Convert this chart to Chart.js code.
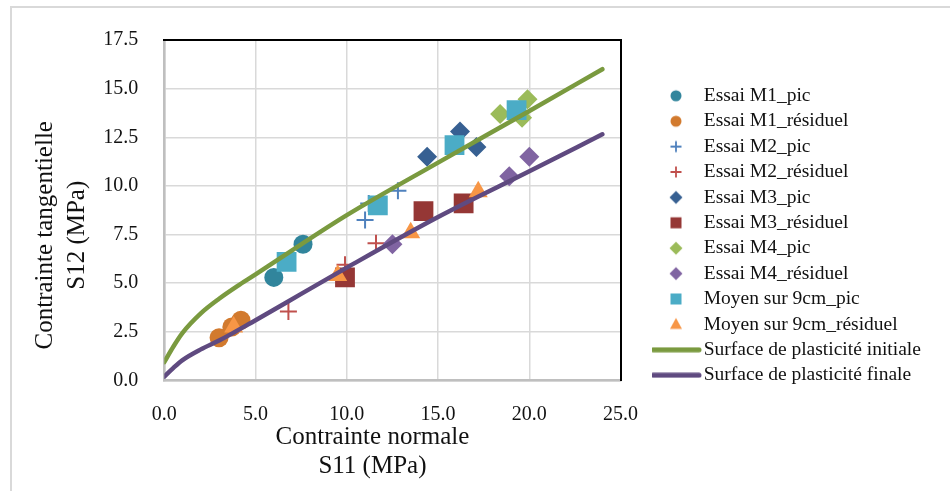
<!DOCTYPE html>
<html>
<head>
<meta charset="utf-8">
<script src="https://cdn.jsdelivr.net/npm/chart.js@4.4.1/dist/chart.umd.min.js"></script>
<style>
  html, body { margin: 0; padding: 0; background: #fff; }
  .wrap { position: relative; width: 950px; height: 491px; overflow: hidden; }
  .frame { position: absolute; left: 10px; top: 6px; width: 1000px; height: 600px;
           border-left: 2px solid #d9d9d9; border-top: 2px solid #d9d9d9; }
  canvas { position: absolute; left: 0; top: 0; }
</style>
</head>
<body>
<div class="wrap">
  <div class="frame"></div>
  <canvas id="myChart" width="950" height="491"></canvas>
</div>
<script>
// points (S11, S12 in MPa)
const m1PicX = [6.0, 7.6];
const m1PicY = [5.3, 7.0];
const m1ResX = [3.0, 3.7, 4.2];
const m1ResY = [2.2, 2.75, 3.1];
const m2PicX = [11.0, 11.2, 12.8];
const m2PicY = [8.25, 9.1, 9.75];
const m2ResX = [6.8, 9.9, 11.6];
const m2ResY = [3.55, 5.95, 7.05];
const m3PicX = [14.4, 16.2, 17.1];
const m3PicY = [11.5, 12.8, 12.0];
const m3ResX = [9.9, 14.2, 16.4];
const m3ResY = [5.3, 8.7, 9.1];
const m4PicX = [18.4, 19.6, 19.9];
const m4PicY = [13.7, 13.5, 14.45];
const m4ResX = [12.5, 18.9, 20.0];
const m4ResY = [7.0, 10.5, 11.5];
const moyPicX = [6.7, 11.7, 15.9, 19.3];
const moyPicY = [6.1, 9.0, 12.1, 13.9];
const moyResX = [3.8, 9.5, 13.5, 17.2];
const moyResY = [2.75, 5.4, 7.6, 9.7];

// plasticity surfaces
const initX = [0, 0.5, 1, 2, 3, 4, 5, 7.5, 10, 15, 20, 24];
const initY = [0.95, 1.75, 2.45, 3.45, 4.2, 4.85, 5.45, 7.0, 8.5, 11.2, 13.85, 16.0];
const finX = [0, 0.5, 1, 2, 3, 5, 7.5, 10, 15, 20, 24];
const finY = [0.2, 0.65, 1.05, 1.6, 2.05, 3.1, 4.45, 5.8, 8.4, 10.75, 12.65];

const xTicks = [0, 5, 10, 15, 20, 25];
const yTicks = [0, 2.5, 5, 7.5, 10, 12.5, 15, 17.5];

const xTitle = ['Contrainte normale', 'S11 (MPa)'];
const yTitle = ['Contrainte tangentielle', 'S12 (MPa)'];

const serif = '"Liberation Serif", "Times New Roman", serif';
const textCol = '#111';

const pts = (xs, ys) => xs.map((x, i) => ({ x: x, y: ys[i] }));

const series = [
  { label: 'Essai M1_pic', x: m1PicX, y: m1PicY, style: 'circle', r: 9.5, color: '#31859c' },
  { label: 'Essai M1_résiduel', x: m1ResX, y: m1ResY, style: 'circle', r: 9.5, color: '#d27a2e' },
  { label: 'Essai M2_pic', x: m2PicX, y: m2PicY, style: 'cross', r: 8.5, color: '#4f81bd' },
  { label: 'Essai M2_résiduel', x: m2ResX, y: m2ResY, style: 'cross', r: 8.5, color: '#c0504d' },
  { label: 'Essai M3_pic', x: m3PicX, y: m3PicY, style: 'rectRot', r: 10, color: '#376092' },
  { label: 'Essai M3_résiduel', x: m3ResX, y: m3ResY, style: 'rect', r: 14, color: '#953735' },
  { label: 'Essai M4_pic', x: m4PicX, y: m4PicY, style: 'rectRot', r: 10, color: '#9bbb59' },
  { label: 'Essai M4_résiduel', x: m4ResX, y: m4ResY, style: 'rectRot', r: 10, color: '#8064a2' },
  { label: 'Moyen sur 9cm_pic', x: moyPicX, y: moyPicY, style: 'rect', r: 14, color: '#4bacc6' },
  { label: 'Moyen sur 9cm_résiduel', x: moyResX, y: moyResY, style: 'triangle', r: 11, color: '#f79646' },
  { label: 'Surface de plasticité initiale', x: initX, y: initY, style: 'line', color: '#7a9a3f' },
  { label: 'Surface de plasticité finale', x: finX, y: finY, style: 'line', color: '#5f4a80' }
];

const datasets = series.map((s, i) => {
  if (s.style === 'line') {
    return {
      label: s.label, data: pts(s.x, s.y), showLine: true, pointRadius: 0,
      borderColor: s.color, borderWidth: 4.5, borderCapStyle: 'round',
      cubicInterpolationMode: 'monotone', fill: false, order: series.length - i
    };
  }
  return {
    label: s.label, data: pts(s.x, s.y), showLine: false,
    pointStyle: s.style, pointRadius: s.r, pointHoverRadius: s.r,
    backgroundColor: s.color, borderColor: s.color,
    borderWidth: s.style === 'cross' ? 2 : 0, order: series.length - i
  };
});

// small legend glyphs
function icon(style, color) {
  const c = document.createElement('canvas');
  const w = style === 'line' ? 52 : 16, h = style === 'line' ? 6 : 16;
  c.width = w; c.height = h;
  const g = c.getContext('2d');
  const m = w / 2, n = h / 2;
  g.fillStyle = color; g.strokeStyle = color;
  g.beginPath();
  if (style === 'line') {
    g.lineWidth = 5; g.lineCap = 'round';
    g.moveTo(3, n); g.lineTo(w - 3, n); g.stroke();
  } else if (style === 'circle') {
    g.arc(m, n, 5.5, 0, Math.PI * 2); g.fill();
  } else if (style === 'rect') {
    g.fillRect(m - 5.5, n - 5.5, 11, 11);
  } else if (style === 'rectRot') {
    g.moveTo(m, n - 6.5); g.lineTo(m + 6.5, n); g.lineTo(m, n + 6.5); g.lineTo(m - 6.5, n);
    g.closePath(); g.fill();
  } else if (style === 'triangle') {
    g.moveTo(m, n - 6.5); g.lineTo(m + 6, n + 4.5); g.lineTo(m - 6, n + 4.5);
    g.closePath(); g.fill();
  } else if (style === 'cross') {
    g.lineWidth = 1.8;
    g.moveTo(m - 5.5, n); g.lineTo(m + 5.5, n);
    g.moveTo(m, n - 5.5); g.lineTo(m, n + 5.5); g.stroke();
  }
  return c;
}
const icons = series.map(s => icon(s.style, s.color));

const axisTitles = {
  id: 'axisTitles',
  afterLayout(chart) {
    // legend sits a fixed gap right of the plot and uses the rest of the width
    const lg = chart.legend;
    lg.left = chart.chartArea.right + 31.5;
    lg.right = chart.width;
    lg.width = lg.right - lg.left;
  },
  afterDraw(chart) {
    const a = chart.chartArea;
    const c = chart.ctx;
    c.save();
    c.font = '25px ' + serif;
    c.fillStyle = textCol;
    c.textAlign = 'center';
    c.textBaseline = 'middle';
    const cx = (a.left + a.right) / 2 - 20;
    c.fillText(xTitle[0], cx, a.bottom + 57);
    c.fillText(xTitle[1], cx, a.bottom + 86);
    c.translate(45, (a.top + a.bottom) / 2 + 25);
    c.rotate(-Math.PI / 2);
    c.fillText(yTitle[0], 0, 0);
    c.fillText(yTitle[1], 0, 32);
    c.restore();
  }
};

const ctx = document.getElementById('myChart').getContext('2d');
const myChart = new Chart(ctx, {
  type: 'scatter',
  data: { datasets: datasets },
  plugins: [axisTitles],
  options: {
    responsive: false,
    animation: false,
    layout: { padding: { top: 0, right: 0, bottom: 20, left: 0 } },
    plugins: {
      tooltip: { enabled: false },
      legend: {
        position: 'right',
        labels: {
          font: { family: serif, size: 19.5 },
          color: textCol,
          usePointStyle: true,
          pointStyleWidth: 36,
          padding: 5.9,
          generateLabels: chart => series.map((s, i) => ({
            text: s.label, pointStyle: icons[i], fillStyle: s.color,
            strokeStyle: s.color, lineWidth: 0, hidden: false,
            datasetIndex: i, fontColor: textCol
          }))
        }
      }
    },
    scales: {
      x: {
        type: 'linear', position: 'bottom', min: 0, max: 25,
        afterBuildTicks: s => { s.ticks = xTicks.map(v => ({ value: v })); },
        ticks: { callback: v => v.toFixed(1), padding: 22, color: textCol,
                 font: { family: serif, size: 20 }, maxRotation: 0 },
        grid: { color: '#d9d9d9', lineWidth: 1.5, drawTicks: false },
        border: { color: '#bfbfbf', width: 2.5 },
        afterFit: s => { s.height = 90.5; }
      },
      y: {
        type: 'linear', position: 'left', min: 0, max: 17.5,
        afterBuildTicks: s => { s.ticks = yTicks.map(v => ({ value: v })); },
        ticks: { callback: v => v.toFixed(1), padding: 26, color: textCol,
                 font: { family: serif, size: 20 } },
        grid: { color: '#d9d9d9', lineWidth: 1.5, drawTicks: false },
        border: { color: '#bfbfbf', width: 2.5 },
        afterFit: s => { s.width = 164.3; }
      },
      xTop: {
        type: 'linear', position: 'top', min: 0, max: 25,
        ticks: { display: false },
        grid: { display: true, drawOnChartArea: false, drawTicks: false },
        border: { color: '#000', width: 2 },
        afterFit: s => { s.height = 40; }
      },
      yRight: {
        type: 'linear', position: 'right', min: 0, max: 17.5,
        ticks: { display: false },
        grid: { display: true, drawOnChartArea: false, drawTicks: false },
        border: { color: '#000', width: 2 },
        afterFit: s => { s.width = Math.max(0, 950 - 620.6 - s.chart.legend.width); }
      }
    }
  }
});
</script>
</body>
</html>
